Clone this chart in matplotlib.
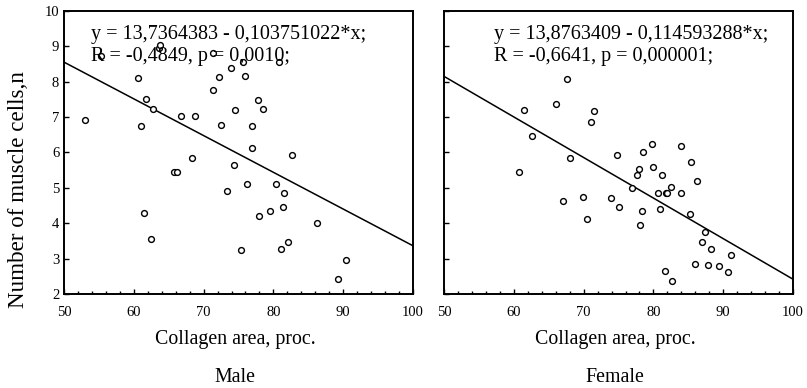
#!/usr/bin/env python

# -----------------------------------------------------------------------------
#  Number of muscle cells vs collagen area, male and female panels
# -----------------------------------------------------------------------------

import numpy as np
import matplotlib.pyplot as plt
import matplotlib.ticker as mticker

#------------------------------------------------------------------------------
# data
#------------------------------------------------------------------------------
male_x = [53.0, 55.3, 60.65, 61.8, 62.8, 61.1, 63.6, 63.8, 66.7, 68.7,
          68.3, 65.8, 66.2, 71.4, 71.3, 72.2, 73.9, 75.7, 75.9, 74.5,
          72.5, 77.8, 78.5, 76.9, 76.9, 80.8, 82.6, 74.3, 76.2, 80.4,
          73.3, 81.5, 61.5, 62.5, 78.0, 79.5, 81.4, 86.3, 75.3, 81.1,
          82.1, 90.4, 89.2]
male_y = [6.91, 8.72, 8.09, 7.51, 7.23, 6.74, 8.95, 9.04, 7.03, 7.03,
          5.85, 5.44, 5.44, 8.82, 7.76, 8.13, 8.37, 8.54, 8.16, 7.19,
          6.78, 7.48, 7.23, 6.74, 6.13, 8.54, 5.92, 5.64, 5.10, 5.10,
          4.91, 4.86, 4.29, 3.56, 4.21, 4.33, 4.45, 4.00, 3.24, 3.28,
          3.48, 2.95, 2.41]

female_x = [67.6, 61.5, 66.1, 71.5, 71.1, 62.6, 68.0, 60.7, 74.8, 78.5,
            79.8, 84.0, 80.0, 77.9, 77.7, 81.2, 85.4, 86.3, 77.0, 80.6,
            81.8, 82.0, 82.5, 84.0, 67.1, 69.9, 70.5, 73.9, 75.0, 78.3,
            78.1, 81.0, 85.3, 87.4, 87.0, 88.3, 91.1, 86.0, 87.8, 89.4,
            90.7, 81.7, 82.7]
female_y = [8.06, 7.19, 7.36, 7.16, 6.86, 6.45, 5.85, 5.44, 5.92, 6.01,
            6.25, 6.18, 5.60, 5.52, 5.36, 5.36, 5.73, 5.19, 4.99, 4.86,
            4.86, 4.86, 5.03, 4.86, 4.62, 4.75, 4.12, 4.70, 4.45, 4.33,
            3.96, 4.41, 4.25, 3.76, 3.48, 3.27, 3.11, 2.86, 2.82, 2.78,
            2.62, 2.65, 2.37]

# regression coefficients as printed on the chart
male_fit = (13.7364383, -0.103751022)
female_fit = (13.8763409, -0.114593288)

male_text = ['y = 13,7364383 - 0,103751022*x;', 'R = -0,4849, p = 0,0010;']
female_text = ['y = 13,8763409 - 0,114593288*x;', 'R = -0,6641, p = 0,000001;']

panel_titles = ['Male', 'Female']
x_label = 'Collagen area, proc.'
y_label = 'Number of muscle cells,n'

#------------------------------------------------------------------------------
# plotting
#------------------------------------------------------------------------------
plt.rcParams['font.family'] = ['Liberation Serif', 'DejaVu Serif']


def panel(ax, x, y, fit, lines, text_x, ylabels=True):
    ax.plot(x, y, linestyle='none', marker='o', markersize=4.2,
            markerfacecolor='white', markeredgecolor='black',
            markeredgewidth=1.0, zorder=3)

    xx = np.array([50, 100])
    ax.plot(xx, fit[0] + fit[1] * xx, color='black', linewidth=1.1, zorder=2)

    ax.set_xlim(50, 100)
    ax.set_ylim(2, 10)
    ax.xaxis.set_major_locator(mticker.MultipleLocator(10))
    ax.xaxis.set_minor_locator(mticker.MultipleLocator(2))
    ax.yaxis.set_major_locator(mticker.MultipleLocator(1))

    ax.tick_params(axis='both', which='both', direction='in', width=1.0,
                   labelsize=10.5, top=False, right=False)
    ax.tick_params(axis='both', which='major', length=3.5)
    ax.tick_params(axis='x', which='minor', length=2.5)
    ax.tick_params(axis='x', which='major', pad=9)
    if not ylabels:
        ax.tick_params(axis='y', labelleft=False)

    for s in ax.spines.values():
        s.set_linewidth(1.4)

    # both lines start at the same left edge
    ax.text(text_x, 0.90, lines[0], transform=ax.transAxes, ha='left',
            va='baseline', fontsize=14.5, zorder=4)
    ax.text(text_x, 0.822, lines[1], transform=ax.transAxes, ha='left',
            va='baseline', fontsize=14.5, zorder=4)


fig = plt.figure(figsize=(8.07, 3.88), dpi=100)
ax1 = fig.add_axes([0.0793, 0.2423, 0.4325, 0.730])
ax2 = fig.add_axes([0.5502, 0.2423, 0.4325, 0.730])

panel(ax1, male_x, male_y, male_fit, male_text, 0.077)
panel(ax2, female_x, female_y, female_fit, female_text, 0.143,
      ylabels=False)

# labels under each panel
for ax, title in zip([ax1, ax2], panel_titles):
    pos = ax.get_position()
    xc = pos.x0 + pos.width * 0.49
    fig.text(xc, 0.1126, x_label, ha='center', va='baseline', fontsize=14.3)
    fig.text(xc, 0.0155, title, ha='center', va='baseline', fontsize=14.3)

fig.text(0.0235, 0.5103, y_label, rotation=90, ha='center', va='center',
         fontsize=16.6)

fig.savefig('out.png', dpi=100)
